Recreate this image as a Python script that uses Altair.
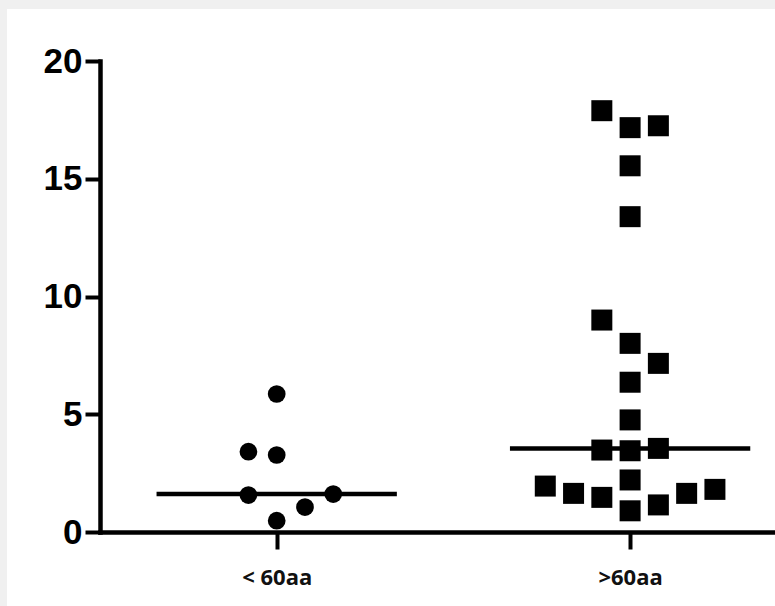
import altair as alt
import pandas as pd

# ---- data ----
groups = ["< 60aa", ">60aa"]
group_pos = [1, 2]

young_values = [5.86, 3.41, 3.27, 1.57, 1.61, 1.06, 0.48]
young_slots = [0, -1, 0, -1, 2, 1, 0]

old_values = [17.89, 17.17, 17.25, 15.55, 13.39, 9.00, 8.01, 7.16, 6.36, 4.76,
              3.48, 3.45, 3.55, 2.21, 1.95, 1.64, 1.47, 0.90, 1.15, 1.64, 1.81]
old_slots = [-1, 0, 1, 0, 0, -1, 0, 1, 0, 0,
             -1, 0, 1, 0, -3, -2, -1, 0, 1, 2, 3]

y_ticks = [0, 5, 10, 15, 20]

# ---- build table ----
rows = []
for v, s in zip(young_values, young_slots):
    rows.append({"group": groups[0], "gpos": group_pos[0], "slot": s, "value": v})
for v, s in zip(old_values, old_slots):
    rows.append({"group": groups[1], "gpos": group_pos[1], "slot": s, "value": v})
df = pd.DataFrame(rows)

W, H = 675, 471
STEP = 0.08
HALF = 0.34

label_expr = " : ".join(
    f"datum.value == {p} ? '{g}'" for p, g in zip(group_pos[:-1], groups[:-1])
) + f" : '{groups[-1]}'"

x_scale = alt.Scale(domain=[0.5, 2.41], nice=False, zero=False)
y_scale = alt.Scale(domain=[0, 20], nice=False)

x_axis = alt.Axis(
    values=group_pos, labelExpr=label_expr, title=None, grid=False,
    domainColor="black", domainWidth=4.5, domainCap="square",
    tickColor="black", tickWidth=4, tickSize=17,
    labelFont="Open Sans", labelFontWeight="bold", labelFontSize=22,
    labelColor="#111111", labelPadding=18, zindex=1,
)
y_axis = alt.Axis(
    values=y_ticks, title=None, grid=False,
    domainColor="black", domainWidth=4.5, domainCap="square",
    tickColor="black", tickWidth=4, tickSize=15,
    labelFont="Liberation Sans", labelFontWeight="bold", labelFontSize=35,
    labelColor="black", labelPadding=3, zindex=1,
)

panel = alt.Chart(pd.DataFrame({"a": [0]})).mark_rect(color="white").encode(
    x=alt.value(-93), x2=alt.value(W), y=alt.value(-52), y2=alt.value(H + 74)
)

base = alt.Chart(df)

medians = base.transform_aggregate(
    med="median(value)", groupby=["gpos"]
).transform_calculate(
    x1=f"datum.gpos - {HALF}", x2=f"datum.gpos + {HALF}"
).mark_rule(color="black", strokeWidth=4.5).encode(
    x=alt.X("x1:Q", scale=x_scale, axis=x_axis),
    x2="x2:Q",
    y=alt.Y("med:Q", scale=y_scale, axis=y_axis),
)

points = base.transform_calculate(
    xpos=f"datum.gpos + datum.slot * {STEP}"
).mark_point(filled=True, opacity=1, strokeWidth=0).encode(
    x=alt.X("xpos:Q", scale=x_scale, axis=x_axis),
    y=alt.Y("value:Q", scale=y_scale, axis=y_axis),
    shape=alt.Shape("group:N", scale=alt.Scale(domain=groups, range=["circle", "square"]), legend=None),
    size=alt.Size("group:N", scale=alt.Scale(domain=groups, range=[314, 441]), legend=None),
    color=alt.value("black"),
)

chart = alt.layer(panel, medians, points).properties(
    width=W, height=H,
    autosize=alt.AutoSizeParams(type="none"),
    padding={"left": 100, "top": 61, "right": 0, "bottom": 74},
    background="#f0f0f0",
).configure_view(strokeWidth=0)

chart.save("out.html", embed_options={"renderer": "svg", "actions": False})
